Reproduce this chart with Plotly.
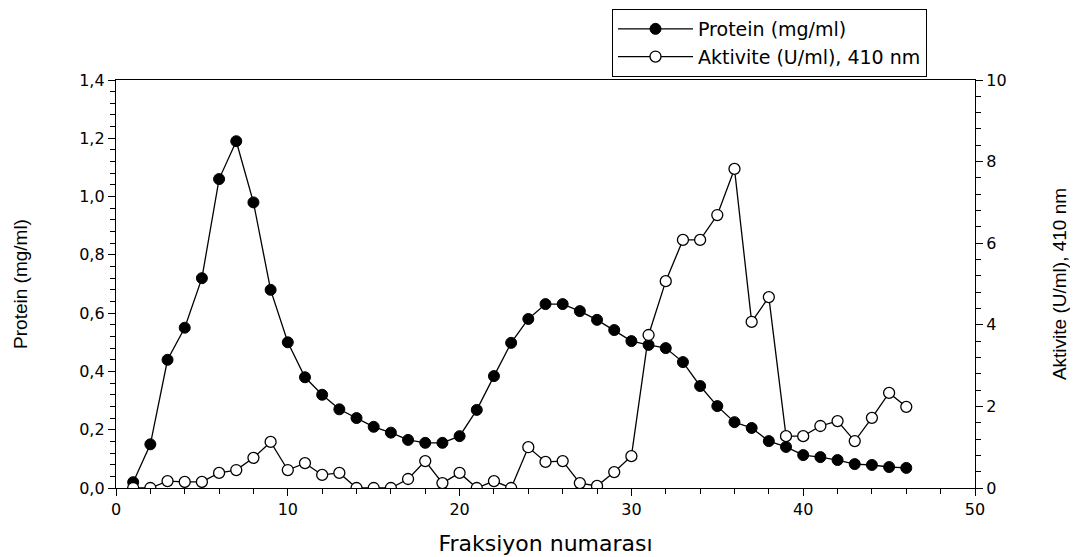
import plotly.graph_objects as go

fraction = list(range(1, 47))
protein = [0.02, 0.15, 0.44, 0.55, 0.72, 1.06, 1.19, 0.98, 0.68, 0.50,
           0.38, 0.32, 0.27, 0.24, 0.21, 0.19, 0.165, 0.155, 0.155, 0.178,
           0.268, 0.384, 0.498, 0.58, 0.631, 0.631, 0.607, 0.577, 0.542, 0.504,
           0.491, 0.48, 0.432, 0.35, 0.281, 0.226, 0.206, 0.161, 0.141, 0.113,
           0.106, 0.096, 0.082, 0.079, 0.072, 0.069]
activity = [0.0, 0.0, 0.17, 0.15, 0.15, 0.37, 0.44, 0.74, 1.13, 0.44,
            0.61, 0.32, 0.37, 0.0, 0.0, 0.0, 0.22, 0.66, 0.12, 0.37,
            0.0, 0.17, 0.0, 1.0, 0.64, 0.66, 0.12, 0.05, 0.39, 0.78,
            3.75, 5.07, 6.08, 6.08, 6.69, 7.82, 4.07, 4.68, 1.27, 1.27,
            1.52, 1.64, 1.15, 1.72, 2.33, 1.99]

WIDE = "DejaVu Sans, Arial, sans-serif"
NARROW = "Liberation Sans, Arial, sans-serif"

fig = go.Figure()
fig.add_trace(go.Scatter(
    x=fraction, y=protein, name="Protein (mg/ml)", mode="lines+markers",
    line=dict(color="black", width=1.3),
    marker=dict(symbol="circle", size=11, color="black", line=dict(color="black", width=1)),
    yaxis="y"))
fig.add_trace(go.Scatter(
    x=fraction, y=activity, name="Aktivite (U/ml), 410 nm", mode="lines+markers",
    line=dict(color="black", width=1.3),
    marker=dict(symbol="circle", size=11, color="white", line=dict(color="black", width=1.3)),
    yaxis="y2"))

axis_common = dict(showgrid=False, zeroline=False, showline=True, linecolor="black",
                   linewidth=1.3, ticks="outside", tickcolor="black", tickwidth=1.3,
                   ticklen=7, tickfont=dict(family=WIDE, size=16, color="black"))

fig.update_layout(
    width=1078, height=557,
    paper_bgcolor="white", plot_bgcolor="white",
    margin=dict(l=108, r=111, t=72, b=77, autoexpand=False),
    separators=",.",
    showlegend=True,
    font=dict(family=WIDE, color="black"),
    xaxis=dict(range=[0, 50], dtick=10, tick0=0, mirror=True,
               title=dict(text="Fraksiyon numarası", font=dict(family=WIDE, size=22), standoff=17),
               minor=dict(dtick=2, ticks="outside", ticklen=5, tickcolor="black", tickwidth=1.2),
               **axis_common),
    yaxis=dict(range=[0, 1.4], dtick=0.2, tick0=0, tickformat=".1f", mirror=True,
               title=dict(text="Protein (mg/ml)", font=dict(family=NARROW, size=19), standoff=46),
               minor=dict(dtick=0.04, ticks="outside", ticklen=5, tickcolor="black", tickwidth=1.2),
               **axis_common),
    yaxis2=dict(range=[0, 10], dtick=2, tick0=0, overlaying="y", side="right",
                title=dict(text="Aktivite (U/ml), 410 nm", font=dict(family=NARROW, size=19), standoff=46),
                minor=dict(dtick=0.4, ticks="outside", ticklen=5, tickcolor="black", tickwidth=1.2),
                **axis_common),
    legend=dict(x=(612 - 116) / 859, y=1 + (72 - 1) / 408, xanchor="left", yanchor="top",
                bordercolor="black", borderwidth=1, bgcolor="white",
                font=dict(family=WIDE, size=19, color="black"),
                itemwidth=75, tracegroupgap=0),
)

fig.write_html("out.html")
